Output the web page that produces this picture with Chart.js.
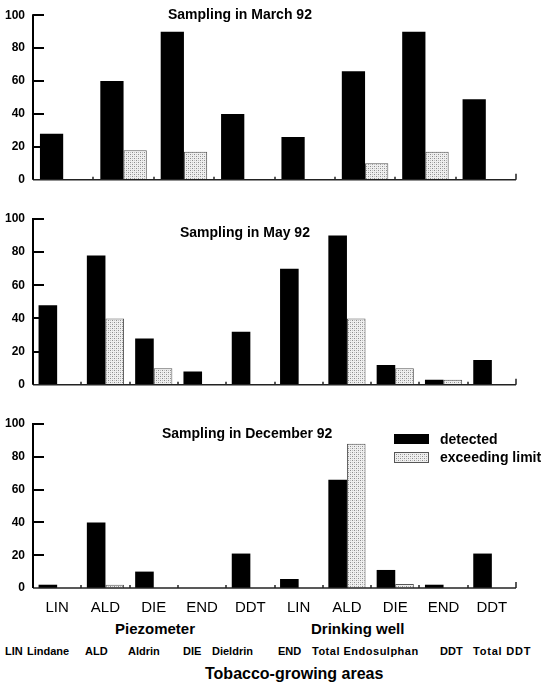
<!DOCTYPE html>
<html>
<head>
<meta charset="utf-8">
<script src="https://cdn.jsdelivr.net/npm/chart.js@4.4.1/dist/chart.umd.min.js"></script>
<style>
  html, body { margin: 0; padding: 0; background: #fff; }
  body { width: 545px; height: 687px; position: relative; overflow: hidden;
         font-family: "Liberation Sans", Arial, Helvetica, sans-serif; color: #000; }
  .panel { position: absolute; left: 0; width: 545px; }
  .txt { position: absolute; white-space: nowrap; font-weight: bold; }
  .sw { position: absolute; width: 35px; height: 10px; }
</style>
</head>
<body>

<div class="panel" style="top:0"><canvas id="marchChart" width="545" height="195"></canvas></div>
<div class="panel" style="top:200px"><canvas id="mayChart" width="545" height="200"></canvas></div>
<div class="panel" style="top:400px"><canvas id="decChart" width="545" height="220"></canvas></div>

<!-- panel titles -->
<div class="txt" style="left:168px;top:6px;font-size:14px;line-height:16px">Sampling in March 92</div>
<div class="txt" style="left:180px;top:224px;font-size:14px;line-height:16px">Sampling in May 92</div>
<div class="txt" style="left:162px;top:425px;font-size:14px;line-height:16px">Sampling in December 92</div>

<!-- legend -->
<div class="sw" style="left:394px;top:434px;background:#000"></div>
<canvas id="legendSwatch" class="sw" width="35" height="11" style="left:394px;top:452px;height:11px"></canvas>
<div class="txt" style="left:440px;top:431px;font-size:14px;line-height:16px">detected</div>
<div class="txt" style="left:440px;top:449px;font-size:14px;line-height:16px">exceeding limit</div>

<!-- group labels -->
<div class="txt" style="left:115px;top:620px;font-size:15px;line-height:17px">Piezometer</div>
<div class="txt" style="left:311px;top:620px;font-size:15px;line-height:17px">Drinking well</div>

<!-- abbreviations -->
<div class="txt" style="left:5px;top:645px;font-size:11px;line-height:12px">LIN</div>
<div class="txt" style="left:27px;top:645px;font-size:11px;line-height:12px">Lindane</div>
<div class="txt" style="left:85px;top:645px;font-size:11px;line-height:12px">ALD</div>
<div class="txt" style="left:128px;top:645px;font-size:11px;line-height:12px">Aldrin</div>
<div class="txt" style="left:183px;top:645px;font-size:11px;line-height:12px">DIE</div>
<div class="txt" style="left:212px;top:645px;font-size:11px;line-height:12px">Dieldrin</div>
<div class="txt" style="left:278px;top:645px;font-size:11px;line-height:12px">END</div>
<div class="txt" style="left:312px;top:645px;font-size:11px;line-height:12px;letter-spacing:0.5px">Total Endosulphan</div>
<div class="txt" style="left:440px;top:645px;font-size:11px;line-height:12px">DDT</div>
<div class="txt" style="left:473px;top:645px;font-size:11px;line-height:12px;letter-spacing:0.8px">Total DDT</div>

<div class="txt" style="left:205px;top:665px;font-size:16px;line-height:18px">Tobacco-growing areas</div>

<script>
// ===== DATA =====
// March: endosulphan not sampled, so only 8 groups
const marchLabels = ['LIN', 'ALD', 'DIE', 'DDT', 'LIN', 'ALD', 'DIE', 'DDT'];
const marchDetected = [28, 60, 90, 40, 26, 66, 90, 49];
const marchExceeding = [null, 18, 17, null, null, 10, 17, null];

const labels = ['LIN', 'ALD', 'DIE', 'END', 'DDT', 'LIN', 'ALD', 'DIE', 'END', 'DDT'];

const mayDetected = [48, 78, 28, 8, 32, 70, 90, 12, 3, 15];
const mayExceeding = [null, 40, 10, null, null, null, 40, 10, 3, null];

const decDetected = [2, 40, 10, 0, 21, 5.5, 66, 11, 2, 21];
const decExceeding = [null, 2, null, null, null, null, 88, 2.5, null, null];

const yTicks = [0, 20, 40, 60, 80, 100];

const FONT = '"Liberation Sans", Arial, Helvetica, sans-serif';

// ===== stipple pattern for "exceeding limit" =====
function makeStipple() {
  const c = document.createElement('canvas');
  c.width = 4; c.height = 4;
  const g = c.getContext('2d');
  g.fillStyle = '#efefef';
  g.fillRect(0, 0, 4, 4);
  g.fillStyle = '#8c8c8c';
  g.fillRect(0, 0, 1, 1);
  g.fillRect(2, 2, 1, 1);
  g.fillStyle = '#c0c0c0';
  g.fillRect(2, 0, 1, 1);
  g.fillRect(0, 2, 1, 1);
  return g.createPattern(c, 'repeat');
}
const stipple = makeStipple();

// legend swatch
(() => {
  const sw = document.getElementById('legendSwatch').getContext('2d');
  sw.fillStyle = stipple;
  sw.fillRect(0, 0, 35, 11);
  sw.strokeStyle = '#555';
  sw.lineWidth = 1;
  sw.strokeRect(0.5, 0.5, 34, 10);
})();

// ===== axis decorations: inward y ticks, thin baseline with small category ticks =====
const axisMarks = {
  id: 'axisMarks',
  afterDatasetsDraw(chart) {
    const { ctx, chartArea: { left, right, top, bottom }, scales: { x, y } } = chart;
    const n = chart.data.labels.length;
    const half = (right - left) / (2 * n);
    ctx.save();
    ctx.strokeStyle = '#222';
    ctx.lineWidth = 1.5;
    ctx.beginPath();
    ctx.moveTo(left, bottom);
    ctx.lineTo(right, bottom);
    ctx.stroke();
    for (let i = 0; i < n; i++) {
      const px = Math.round(x.getPixelForValue(i) + half);
      const h = i === n - 1 ? 6 : 3;
      ctx.beginPath();
      ctx.moveTo(px, bottom);
      ctx.lineTo(px, bottom - h);
      ctx.stroke();
    }
    ctx.strokeStyle = '#000';
    ctx.lineWidth = 2;
    ctx.beginPath();
    ctx.moveTo(left, y.getPixelForValue(100) - 1);
    ctx.lineTo(left, bottom);
    ctx.stroke();
    yTicks.filter(v => v > 0).forEach(v => {
      const py = Math.round(y.getPixelForValue(v));
      ctx.beginPath();
      ctx.moveTo(left, py);
      ctx.lineTo(left + 11, py);
      ctx.stroke();
    });
    ctx.restore();
  }
};

function renderPanel(id, cats, detected, exceeding, pad, showX) {
  const ctx = document.getElementById(id);
  return new Chart(ctx, {
    type: 'bar',
    data: {
      labels: cats,
      datasets: [
        {
          label: 'detected',
          data: detected,
          backgroundColor: '#000',
          borderWidth: 0
        },
        {
          label: 'exceeding limit',
          data: exceeding,
          backgroundColor: stipple,
          borderColor: '#555',
          borderWidth: 1
        }
      ]
    },
    options: {
      responsive: false,
      animation: false,
      events: [],
      categoryPercentage: 0.77,
      barPercentage: 1.0,
      layout: { padding: pad },
      plugins: { legend: { display: false }, tooltip: { enabled: false }, title: { display: false } },
      scales: {
        x: {
          display: showX,
          grid: { display: false },
          border: { display: false },
          ticks: {
            color: '#000',
            font: { family: FONT, size: 15 },
            padding: 3,
            maxRotation: 0,
            autoSkip: false
          },
          afterFit: s => { s.height = showX ? 32 : 0; }
        },
        y: {
          min: 0,
          max: 100,
          afterBuildTicks: s => { s.ticks = yTicks.map(v => ({ value: v })); },
          grid: { display: false, drawTicks: false },
          border: { display: false },
          ticks: {
            color: '#000',
            font: { family: FONT, size: 12, weight: 'bold' },
            padding: 8
          },
          afterFit: s => { s.width = 33; }
        }
      }
    },
    plugins: [axisMarks]
  });
}

renderPanel('marchChart', marchLabels, marchDetected, marchExceeding, { top: 15, bottom: 12, left: 0, right: 29 }, false);
renderPanel('mayChart', labels, mayDetected, mayExceeding, { top: 19, bottom: 12, left: 0, right: 29 }, false);
renderPanel('decChart', labels, decDetected, decExceeding, { top: 24, bottom: 0, left: 0, right: 29 }, true);
</script>
</body>
</html>
